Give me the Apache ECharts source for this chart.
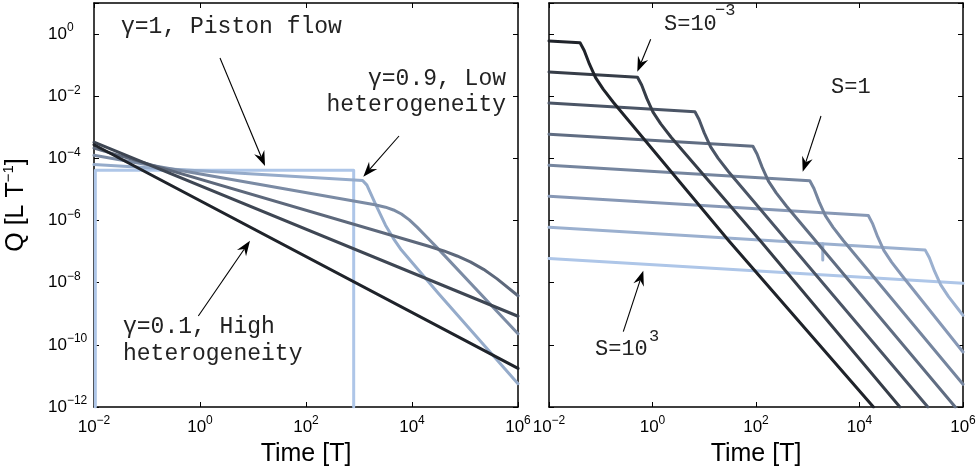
<!DOCTYPE html>
<html><head><meta charset="utf-8">
<script src="https://cdn.jsdelivr.net/npm/echarts@6/dist/echarts.min.js"></script>
<style>html,body{margin:0;padding:0;background:#fff}#c{width:978px;height:470px}</style>
</head><body><div id="c"></div>
<script>
// ---------- LEFT PANEL DATA (time T, discharge Q) ----------
const pistonT = [0.0106, 0.0106, 794, 794];
const pistonQ = [1e-12, 4.17e-5, 4.17e-5, 1e-12];
const g09T = [0.01, 1.17e3, 1.41e3, 2.09e3, 3.16e3, 4.47e3, 6.31e3, 3.16e4, 1e6];
const g09Q = [6.31e-5, 1.95e-5, 1.38e-5, 3.16e-6, 7.08e-7, 2.63e-7, 1.12e-7, 4.47e-9, 5.62e-12];
const g07T = [0.01, 2.0e3, 3.16e3, 4.47e3, 6.31e3, 8.91e3, 1.26e4, 2.0e4, 3.16e4, 1e6];
const g07Q = [1.26e-4, 3.24e-6, 2.69e-6, 2.19e-6, 1.62e-6, 1.05e-6, 6.03e-7, 2.69e-7, 1.20e-7, 2.29e-10];
const g05T = [0.01, 2.0e4, 3.98e4, 7.08e4, 1.26e5, 2.24e5, 3.98e5, 1e6];
const g05Q = [2.14e-4, 1.51e-7, 1.05e-7, 7.24e-8, 4.68e-8, 2.69e-8, 1.35e-8, 3.80e-9];
const g03T = [0.01, 1e6];
const g03Q = [3.31e-4, 8.32e-10];
const g01T = [0.01, 1e6];
const g01Q = [2.75e-4, 1.74e-11];

// ---------- RIGHT PANEL DATA (S = 1e-4 ... 1e3) ----------
const s1T = [0.01, 0.0398, 0.0479, 0.0603, 0.0794, 0.1122, 0.1778, 29.5, 1.86e4];
const s1Q = [0.603, 0.525, 0.295, 0.1096, 0.0398, 0.0166, 6.17e-3, 2.29e-7, 1e-12];
const s2T = [0.01, 0.513, 0.617, 0.776, 1.023, 1.445, 2.29, 120, 6.03e4];
const s2Q = [0.0603, 0.0407, 0.0229, 8.51e-3, 3.09e-3, 1.29e-3, 4.79e-4, 2.29e-7, 1e-12];
const s3T = [0.01, 6.61, 7.94, 10.0, 13.2, 18.6, 29.5, 2.09e5];
const s3Q = [6.03e-3, 3.16e-3, 1.778e-3, 6.61e-4, 2.40e-4, 1.0e-4, 3.72e-5, 1e-12];
const s4T = [0.01, 87.1, 104.7, 131.8, 173.8, 245.5, 389, 7.08e5];
const s4Q = [6.03e-4, 2.45e-4, 1.38e-4, 5.13e-5, 1.86e-5, 7.76e-6, 2.88e-6, 1e-12];
const s5T = [0.01, 1096, 1318, 1660, 2188, 3090, 4898, 1e6];
const s5Q = [6.03e-5, 1.905e-5, 1.072e-5, 3.98e-6, 1.445e-6, 6.03e-7, 2.24e-7, 5.37e-12];
const s6T = [0.01, 1.48e4, 1.778e4, 2.239e4, 2.951e4, 4.169e4, 6.607e4, 1e6];
const s6Q = [6.03e-6, 1.445e-6, 8.13e-7, 3.02e-7, 1.096e-7, 4.57e-8, 1.70e-8, 5.89e-11];
const s7T = [0.01, 1.862e5, 2.239e5, 2.818e5, 3.715e5, 5.248e5, 8.318e5, 1e6];
const s7Q = [6.03e-7, 1.12e-7, 6.31e-8, 2.34e-8, 8.51e-9, 3.55e-9, 1.318e-9, 8.91e-10];
const s7GlitchT = [1950, 1950];
const s7GlitchQ = [1.78e-7, 5.37e-8];
const s8T = [0.01, 1e6];
const s8Q = [6.03e-8, 9.55e-9];

// axis ranges
const timeMin = 0.01, timeMax = 1e6;
const qMin = 1e-12, qMax = 10;

const leftColors = ['#aec6e8', '#95abca', '#7b8ba4', '#5d687b', '#3e4653', '#1f232a'];
const rightColors = ['#1f232a', '#363d48', '#4b5566', '#606d82', '#75859e', '#8798b5', '#9bb0cf', '#aec6e8'];

const zip = (t, q) => t.map((x, i) => [x, q[i]]);
const FONT = '"Liberation Sans", Arial, sans-serif';
const MONO = '"Liberation Mono", "DejaVu Sans Mono", monospace';

function expFmt(v) {
  const e = Math.log10(v), r = Math.round(e);
  if (Math.abs(e - r) > 1e-6 || r % 2 !== 0) return '';
  return '{b|10}{s|' + (r < 0 ? '\u2212' + (-r) : r) + '}';
}
const labRich = {
  b: { fontSize: 17, fontFamily: FONT, lineHeight: 24, color: '#000' },
  s: { fontSize: 12, fontFamily: FONT, verticalAlign: 'top', color: '#000' }
};
const lineSt = { color: '#000', width: 1.5 };
const tickSt = { inside: true, length: 5, lineStyle: { color: '#000', width: 1 } };

function xAxis(grid, pos, withLabels) {
  const a = {
    type: 'log', logBase: 10, gridIndex: grid, position: pos, min: timeMin, max: timeMax, interval: 2,
    axisLine: { show: true, lineStyle: lineSt }, axisTick: tickSt, splitLine: { show: false },
    minorTick: { show: false }, axisLabel: { show: false }
  };
  if (withLabels) {
    a.axisLabel = { show: true, formatter: expFmt, rich: labRich, margin: 8, fontSize: 17, fontFamily: FONT, color: '#000' };
    a.name = 'Time [T]'; a.nameLocation = 'middle'; a.nameGap = 30;
    a.nameTextStyle = { fontFamily: FONT, fontSize: 25, color: '#000', lineHeight: 28 };
  }
  return a;
}
function yAxis(grid, pos, withLabels) {
  const a = {
    type: 'log', logBase: 10, gridIndex: grid, position: pos, min: qMin, max: qMax, interval: 2,
    axisLine: { show: true, lineStyle: lineSt }, axisTick: tickSt, splitLine: { show: false },
    minorTick: { show: false }, axisLabel: { show: false }
  };
  if (withLabels) {
    a.axisLabel = { show: true, formatter: expFmt, rich: labRich, margin: 46, align: 'left', fontSize: 17, fontFamily: FONT, color: '#000' };
    a.name = 'Q [L T{s|\u22121}]'; a.nameLocation = 'middle'; a.nameGap = 63;
    a.nameTextStyle = { fontFamily: FONT, fontSize: 25, color: '#000', lineHeight: 30,
      rich: { s: { fontFamily: FONT, fontSize: 15, verticalAlign: 'top', color: '#000' } } };
  }
  return a;
}

function ln(name, t, q, color, xi) {
  return { type: 'line', name, xAxisIndex: xi, yAxisIndex: xi, data: zip(t, q), symbol: 'none',
    showSymbol: false, clip: true, silent: true, smooth: false,
    lineStyle: { color, width: 3, join: 'round', cap: 'round' } };
}

const series = [
  ln('γ=1', pistonT, pistonQ, leftColors[0], 0),
  ln('γ=0.9', g09T, g09Q, leftColors[1], 0),
  ln('γ=0.7', g07T, g07Q, leftColors[2], 0),
  ln('γ=0.5', g05T, g05Q, leftColors[3], 0),
  ln('γ=0.3', g03T, g03Q, leftColors[4], 0),
  ln('γ=0.1', g01T, g01Q, leftColors[5], 0),
  ln('S=1e3', s8T, s8Q, rightColors[7], 2),
  ln('S=1e2', s7T, s7Q, rightColors[6], 2),
  ln('S=1e2 glitch', s7GlitchT, s7GlitchQ, rightColors[6], 2),
  ln('S=10', s6T, s6Q, rightColors[5], 2),
  ln('S=1', s5T, s5Q, rightColors[4], 2),
  ln('S=1e-1', s4T, s4Q, rightColors[3], 2),
  ln('S=1e-2', s3T, s3Q, rightColors[2], 2),
  ln('S=1e-3', s2T, s2Q, rightColors[1], 2),
  ln('S=1e-4', s1T, s1Q, rightColors[0], 2)
];

// annotation helpers (arrows and labels)
function arrow(x1, y1, x2, y2) {
  const dx = x2 - x1, dy = y2 - y1, L = Math.hypot(dx, dy), ux = dx / L, uy = dy / L, px = -uy, py = ux;
  const hl = 15, hw = 5.5, back = 10;
  const bx = x2 - hl * ux, by = y2 - hl * uy, nx = x2 - back * ux, ny = y2 - back * uy;
  return [
    { type: 'line', shape: { x1, y1, x2: nx, y2: ny }, style: { stroke: '#000', lineWidth: 1.1 }, z: 100 },
    { type: 'polygon', shape: { points: [[x2, y2], [bx + hw * px, by + hw * py], [nx, ny], [bx - hw * px, by - hw * py]] },
      style: { fill: '#000' }, z: 100 }
  ];
}
function txt(text, x, y, size, align, lh) {
  return { type: 'text', x, y, z: 100, style: { text, font: size + 'px ' + MONO, fill: '#222',
    align: align || 'left', verticalAlign: 'middle', lineHeight: lh || size + 4 } };
}

const graphics = [].concat(
  [txt('γ=1, Piston flow', 121, 27, 23)],
  [txt('γ=0.9, Low\nheterogeneity', 506, 92, 23, 'right', 26)],
  [txt('γ=0.1, High\nheterogeneity', 123, 340, 23, 'left', 27)],
  [txt('S=10', 664, 24, 22), txt('\u22123', 715, 10, 17)],
  [txt('S=1', 831, 87, 22)],
  [txt('S=10', 595, 349, 22), txt('3', 649, 336, 17)],
  arrow(220, 58, 265, 166),
  arrow(399, 136, 363.3, 176.7),
  arrow(198.3, 316, 250, 240.7),
  arrow(650.7, 39.3, 637.3, 71.7),
  arrow(821, 116, 802.7, 171.7),
  arrow(623.3, 331.7, 643.3, 270.7)
);

const chart = echarts.init(document.getElementById('c'), null, { renderer: 'canvas' });
chart.setOption({
  animation: false,
  backgroundColor: '#fff',
  grid: [
    { left: 94, top: 3, width: 424, height: 404, containLabel: false, outerBoundsMode: 'none' },
    { left: 549, top: 3, width: 414, height: 404, containLabel: false, outerBoundsMode: 'none' }
  ],
  xAxis: [xAxis(0, 'bottom', true), xAxis(0, 'top', false), xAxis(1, 'bottom', true), xAxis(1, 'top', false)],
  yAxis: [yAxis(0, 'left', true), yAxis(0, 'right', false), yAxis(1, 'left', false), yAxis(1, 'right', false)],
  series,
  graphic: graphics
});
</script></body></html>
